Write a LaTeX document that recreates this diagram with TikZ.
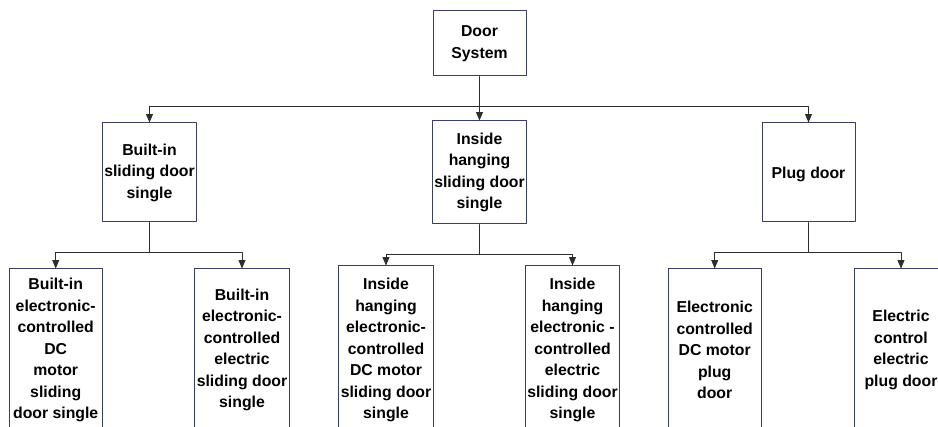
\documentclass[tikz,border=0pt]{standalone}
\usepackage{fontspec}
\setmainfont{Liberation Sans}
\usetikzlibrary{arrows}
\definecolor{boxline}{RGB}{58,62,100}
\definecolor{wirecol}{RGB}{45,45,45}

\begin{document}
\begin{tikzpicture}[line cap=round,line join=round,>=triangle 45,x=1pt,y=-1pt,
    box/.style={draw=boxline,line width=1pt,fill=white,minimum width=93pt,inner sep=2pt,
      align=center,font=\bfseries\fontsize{15.8}{21.5}\selectfont,
      execute at begin node={\rule{0pt}{15.5pt}}},
    wire/.style={draw=wirecol,line width=0.9pt}]
      \useasboundingbox (0,0) rectangle (938,427);
      \clip (0,0) rectangle (938,427);

      % top level
      \node[box,minimum height=65pt] (door) at (479.5,43.5) {Door\\System};

      % second level
      \node[box,minimum height=99pt] (builtin) at (149.5,172.5) {Built-in\\sliding door\\single};
      \node[box,minimum height=103pt] (inside) at (479.5,172.5) {Inside\\hanging\\sliding door\\single};
      \node[box,minimum height=99pt] (plug) at (808.5,172.5) {Plug door};

      % third level (cut off at the bottom)
      \node[box,minimum height=162pt] (bidc) at (55.7,350) {Built-in\\electronic-\\controlled\\DC\\motor\\sliding\\door single};
      \node[box,minimum height=162pt] (biel) at (242,350) {Built-in\\electronic-\\controlled\\electric\\sliding door\\single};
      \node[box,minimum height=168pt] (ihdc) at (386,350) {Inside\\hanging\\electronic-\\controlled\\DC motor\\sliding door\\single};
      \node[box,minimum height=168pt] (ihel) at (572.5,350) {Inside\\hanging\\electronic -\\controlled\\electric\\sliding door\\single};
      \node[box,minimum height=162pt] (pldc) at (714.7,350) {Electronic\\controlled\\DC motor\\plug\\door};
      \node[box,minimum height=162pt] (plel) at (901,350) {Electric\\control\\electric\\plug door};

      % branch points
      \coordinate (j0) at (479.5,106);
      \coordinate (j1) at (149.5,252.3);
      \coordinate (j2) at (479.5,254.7);
      \coordinate (j3) at (808.5,252.3);

      \draw[wire] (door) -- (j0);
      \draw[wire,->] (j0) -| (builtin);
      \draw[wire,->] (j0) -- (inside);
      \draw[wire,->] (j0) -| (plug);

      \draw[wire] (builtin) -- (j1);
      \draw[wire,->] (j1) -| (bidc);
      \draw[wire,->] (j1) -| (biel);

      \draw[wire] (inside) -- (j2);
      \draw[wire,->] (j2) -| (ihdc);
      \draw[wire,->] (j2) -| (ihel);

      \draw[wire] (plug) -- (j3);
      \draw[wire,->] (j3) -| (pldc);
      \draw[wire,->] (j3) -| (plel);
\end{tikzpicture}
\end{document}
